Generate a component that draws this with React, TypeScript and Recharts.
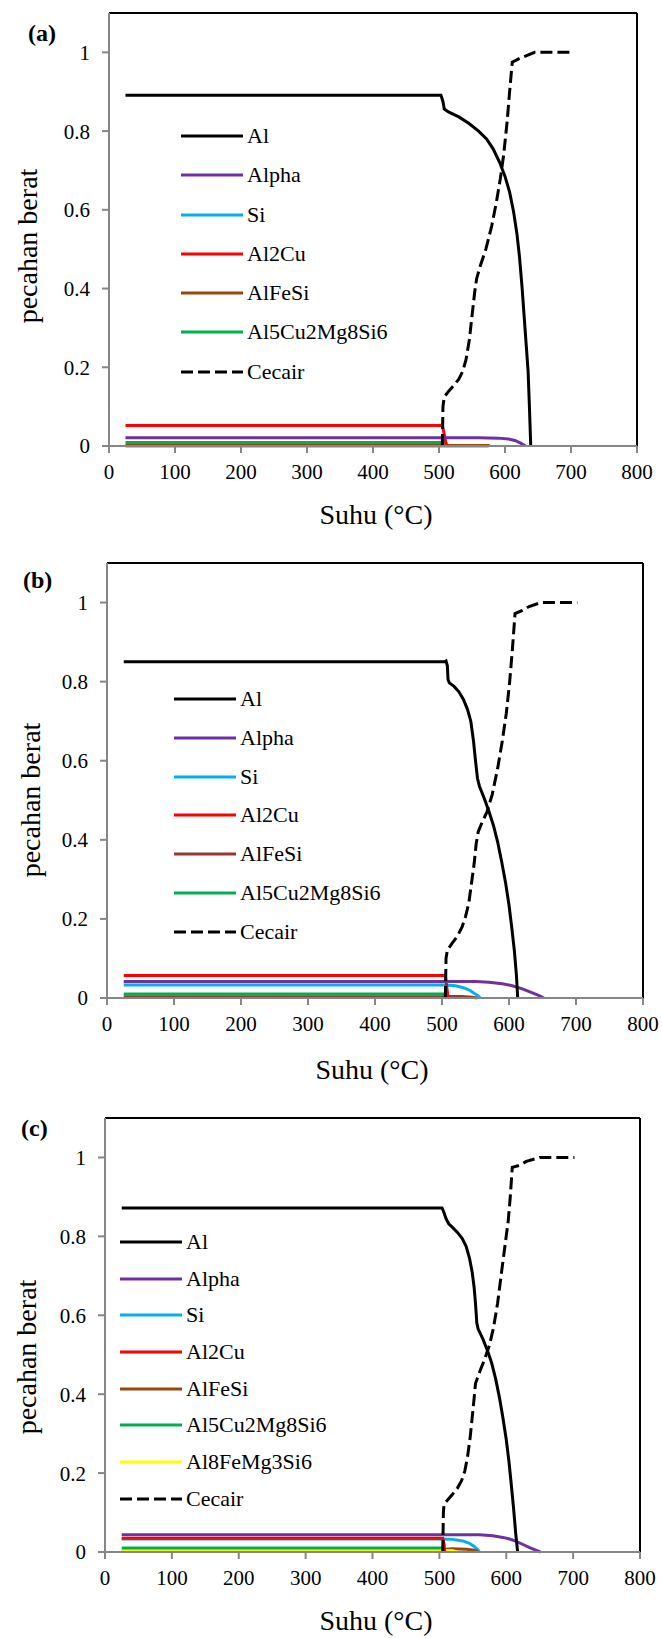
import { LineChart, Line, XAxis, YAxis, ReferenceLine, Legend } from "recharts";

type Pt = [number, number];

const FONT = '"Liberation Serif", "Times New Roman", serif';

const TEMP_TICKS = [0, 100, 200, 300, 400, 500, 600, 700, 800];
const FRACTION_TICKS = [0, 0.2, 0.4, 0.6, 0.8, 1];

// ---- panel (a) ----
const alA: Pt[] = [
  [25, 0.891], [503, 0.891], [506, 0.875], [508, 0.856], [515, 0.848], [530, 0.836],
  [545, 0.82], [560, 0.8], [572, 0.78], [582, 0.755], [592, 0.72], [600, 0.685],
  [607, 0.645], [613, 0.595], [618, 0.54], [622, 0.48], [626, 0.4], [629, 0.33],
  [632, 0.26], [635, 0.19], [637, 0.1], [639, 0],
];
const alphaA: Pt[] = [
  [25, 0.021], [505, 0.021], [560, 0.021], [590, 0.02], [605, 0.018], [615, 0.014],
  [623, 0.008], [628, 0.003], [631, 0],
];
const siA: Pt[] = [[25, 0], [575, 0]];
const al2cuA: Pt[] = [[25, 0.052], [505, 0.052], [508, 0.03], [510, 0.01], [512, 0.002], [514, 0]];
const alfesiA: Pt[] = [[25, 0.0015], [575, 0.0015], [577, 0]];
const al5cuA: Pt[] = [[25, 0.009], [505, 0.009], [508, 0.004], [510, 0]];
const cecairA: Pt[] = [
  [505, 0], [506, 0.1], [508, 0.125], [515, 0.14], [523, 0.155], [530, 0.17], [536, 0.19],
  [541, 0.22], [546, 0.27], [550, 0.33], [554, 0.39], [557, 0.425], [563, 0.46],
  [571, 0.5], [580, 0.56], [587, 0.62], [593, 0.68], [598, 0.74], [603, 0.82],
  [607, 0.9], [611, 0.975], [620, 0.983], [630, 0.99], [645, 1], [702, 1],
];

// ---- panel (b) ----
const alB: Pt[] = [
  [25, 0.85], [504, 0.85], [506, 0.852], [508, 0.84], [509, 0.805], [511, 0.797],
  [518, 0.788], [525, 0.775], [532, 0.755], [538, 0.73], [543, 0.7], [547, 0.65],
  [550, 0.6], [553, 0.555], [556, 0.535], [563, 0.505], [570, 0.472], [577, 0.435],
  [583, 0.395], [589, 0.345], [595, 0.29], [600, 0.235], [604, 0.18], [608, 0.12],
  [611, 0.06], [613, 0],
];
const alphaB: Pt[] = [
  [25, 0.042], [505, 0.042], [550, 0.042], [570, 0.04], [590, 0.036], [605, 0.031],
  [620, 0.023], [635, 0.013], [645, 0.006], [652, 0],
];
const siB: Pt[] = [
  [25, 0.033], [505, 0.033], [520, 0.031], [532, 0.026], [542, 0.019], [549, 0.011],
  [554, 0.005], [557, 0],
];
const al2cuB: Pt[] = [[25, 0.057], [505, 0.057], [507, 0.03], [509, 0]];
const alfesiB: Pt[] = [[25, 0.003], [505, 0.003], [510, 0.004], [530, 0.004], [545, 0.002], [552, 0]];
const al5cuB: Pt[] = [[25, 0.01], [505, 0.01], [507, 0.005], [509, 0]];
const cecairB: Pt[] = [
  [505, 0], [506, 0.1], [508, 0.121], [515, 0.138], [523, 0.156], [530, 0.18], [535, 0.205],
  [540, 0.24], [544, 0.29], [548, 0.34], [551, 0.39], [554, 0.42], [560, 0.445],
  [567, 0.47], [575, 0.515], [583, 0.58], [590, 0.65], [596, 0.72], [601, 0.8],
  [605, 0.88], [609, 0.972], [620, 0.98], [630, 0.99], [648, 1], [702, 1],
];

// ---- panel (c) ----
const alC: Pt[] = [
  [25, 0.872], [504, 0.872], [507, 0.86], [510, 0.845], [514, 0.832], [520, 0.822],
  [527, 0.81], [534, 0.795], [540, 0.775], [545, 0.745], [549, 0.71], [552, 0.67],
  [554, 0.63], [556, 0.58], [558, 0.565], [565, 0.54], [572, 0.51], [578, 0.48],
  [584, 0.44], [590, 0.39], [595, 0.34], [600, 0.285], [604, 0.23], [607, 0.18],
  [611, 0.11], [614, 0.05], [617, 0],
];
const alphaC: Pt[] = [
  [25, 0.044], [505, 0.044], [560, 0.044], [580, 0.041], [595, 0.037], [605, 0.033],
  [615, 0.027], [625, 0.019], [635, 0.011], [645, 0.004], [651, 0],
];
const siC: Pt[] = [
  [25, 0.033], [505, 0.033], [520, 0.032], [535, 0.028], [545, 0.022], [552, 0.014],
  [557, 0.006], [560, 0],
];
const al2cuC: Pt[] = [[25, 0.035], [505, 0.035], [507, 0.02], [508, 0]];
const alfesiC: Pt[] = [
  [25, 0.003], [505, 0.003], [510, 0.007], [520, 0.008], [540, 0.007], [550, 0.005],
  [555, 0.003], [558, 0],
];
const al5cuC: Pt[] = [[25, 0.01], [505, 0.01], [506, 0.005], [507, 0]];
const al8feC: Pt[] = [[25, 0.004], [505, 0.004], [520, 0.003], [527, 0]];
const cecairC: Pt[] = [
  [505, 0], [506, 0.1], [507, 0.122], [512, 0.131], [520, 0.147], [527, 0.162], [533, 0.18],
  [538, 0.205], [542, 0.24], [546, 0.29], [549, 0.34], [552, 0.39], [554, 0.427],
  [561, 0.46], [568, 0.49], [575, 0.525], [581, 0.569], [587, 0.63], [593, 0.71],
  [598, 0.775], [603, 0.84], [606, 0.9], [609, 0.975], [620, 0.98], [630, 0.99],
  [650, 1], [702, 1],
];

type Series = { name: string; pts: Pt[]; color: string; dash?: string };

const DASH = "12 5";

// legend order
const seriesA: Series[] = [
  { name: "Al", pts: alA, color: "#000000" },
  { name: "Alpha", pts: alphaA, color: "#7030A0" },
  { name: "Si", pts: siA, color: "#00B0F0" },
  { name: "Al2Cu", pts: al2cuA, color: "#FF0000" },
  { name: "AlFeSi", pts: alfesiA, color: "#984807" },
  { name: "Al5Cu2Mg8Si6", pts: al5cuA, color: "#00B050" },
  { name: "Cecair", pts: cecairA, color: "#000000", dash: DASH },
];
const seriesB: Series[] = [
  { name: "Al", pts: alB, color: "#000000" },
  { name: "Alpha", pts: alphaB, color: "#7030A0" },
  { name: "Si", pts: siB, color: "#00B0F0" },
  { name: "Al2Cu", pts: al2cuB, color: "#FF0000" },
  { name: "AlFeSi", pts: alfesiB, color: "#953735" },
  { name: "Al5Cu2Mg8Si6", pts: al5cuB, color: "#00B050" },
  { name: "Cecair", pts: cecairB, color: "#000000", dash: DASH },
];
const seriesC: Series[] = [
  { name: "Al", pts: alC, color: "#000000" },
  { name: "Alpha", pts: alphaC, color: "#7030A0" },
  { name: "Si", pts: siC, color: "#00B0F0" },
  { name: "Al2Cu", pts: al2cuC, color: "#FF0000" },
  { name: "AlFeSi", pts: alfesiC, color: "#984807" },
  { name: "Al5Cu2Mg8Si6", pts: al5cuC, color: "#00B050" },
  { name: "Al8FeMg3Si6", pts: al8feC, color: "#FFFF00" },
  { name: "Cecair", pts: cecairC, color: "#000000", dash: DASH },
];

// which series sit on top of which (first drawn = bottom)
const DRAW_ORDER = ["Si", "AlFeSi", "Al8FeMg3Si6", "Al5Cu2Mg8Si6", "Al2Cu", "Alpha", "Al", "Cecair"];

type PanelProps = {
  top: number;
  height: number;
  marginTop: number;
  marginRight: number;
  yWidth: number;
  plotH: number;
  series: Series[];
  tag: string;
  tagTop: number;
  tagLeft: number;
  legendX: number;
  legendY: number;
  legendStep: number;
  xTitleX: number;
  xTitleY: number;
  yTitleX: number;
  yTitleY: number;
};

const AXIS_GREY = "#868686";

function Panel(p: PanelProps) {
  const drawn = DRAW_ORDER.map((n) => p.series.find((s) => s.name === n)).filter(
    (s): s is Series => !!s
  );

  const legendContent = () => (
    <div className="serif" style={{ fontFamily: FONT, fontSize: 22, color: "#000" }}>
      {p.series.map((s) => (
        <div
          key={s.name}
          style={{ display: "flex", alignItems: "center", height: p.legendStep, whiteSpace: "nowrap" }}
        >
          <svg width={62} height={6} style={{ display: "block", marginRight: 4 }}>
            <line x1={0} y1={3} x2={62} y2={3} stroke={s.color} strokeWidth={3} strokeDasharray={s.dash} />
          </svg>
          <span>{s.name}</span>
        </div>
      ))}
    </div>
  );

  return (
    <div style={{ position: "absolute", left: 0, top: p.top, width: 662, height: p.height }}>
      <LineChart
        width={662}
        height={p.height}
        margin={{ top: p.marginTop, right: p.marginRight, bottom: 0, left: 0 }}
        style={{ fontFamily: FONT }}
      >
        <XAxis
          dataKey="x"
          type="number"
          domain={[0, 800]}
          ticks={TEMP_TICKS}
          height={p.height - p.marginTop - p.plotH}
          stroke={AXIS_GREY}
          strokeWidth={2}
          tickSize={7}
          tickMargin={11}
          tick={{ fontSize: 21, fill: "#000", fontFamily: FONT }}
        />
        <YAxis
          dataKey="y"
          type="number"
          domain={[0, 1.1]}
          ticks={FRACTION_TICKS}
          width={p.yWidth}
          stroke={AXIS_GREY}
          strokeWidth={2}
          tickSize={7}
          tickMargin={12}
          tick={{ fontSize: 21, fill: "#000", fontFamily: FONT }}
        />
        <ReferenceLine y={1.1} stroke="#000" strokeWidth={2} />
        <ReferenceLine x={800} stroke="#000" strokeWidth={2} />
        {drawn.map((s) => (
          <Line
            key={s.name}
            name={s.name}
            data={s.pts.map(([x, y]) => ({ x, y }))}
            dataKey="y"
            type="linear"
            stroke={s.color}
            strokeWidth={3}
            strokeDasharray={s.dash}
            dot={false}
            activeDot={false}
            isAnimationActive={false}
          />
        ))}
        <Legend
          layout="vertical"
          align="center"
          verticalAlign="middle"
          wrapperStyle={{ left: p.legendX, top: p.legendY - p.legendStep / 2, width: 260 }}
          content={legendContent}
        />
      </LineChart>

      <div
        className="serif"
        style={{
          position: "absolute",
          left: p.tagLeft,
          top: p.tagTop,
          fontWeight: "bold",
          fontSize: 24,
          lineHeight: "28px",
        }}
      >
        {p.tag}
      </div>
      <div
        className="serif"
        style={{
          position: "absolute",
          left: p.xTitleX,
          top: p.xTitleY,
          transform: "translate(-50%, -50%)",
          fontSize: 28,
          whiteSpace: "nowrap",
        }}
      >
        Suhu (°C)
      </div>
      <div
        className="serif"
        style={{
          position: "absolute",
          left: p.yTitleX,
          top: p.yTitleY,
          transform: "translate(-50%, -50%) rotate(-90deg)",
          fontSize: 28,
          whiteSpace: "nowrap",
        }}
      >
        pecahan berat
      </div>
    </div>
  );
}

export default function App() {
  return (
    <div style={{ position: "absolute", left: 0, top: 0, width: 662, height: 1638, background: "#fff" }}>
      <style>{`.serif, .serif *, .recharts-wrapper text, .recharts-legend-wrapper * { font-family: "Liberation Serif", "Times New Roman", serif !important; }`}</style>
      <Panel
        top={0}
        height={550}
        marginTop={13}
        marginRight={25}
        yWidth={109}
        plotH={433}
        series={seriesA}
        tag="(a)"
        tagLeft={28}
        tagTop={19}
        legendX={181}
        legendY={136}
        legendStep={39.3}
        xTitleX={376}
        xTitleY={515}
        yTitleX={28}
        yTitleY={246}
      />
      <Panel
        top={550}
        height={550}
        marginTop={13}
        marginRight={19}
        yWidth={107}
        plotH={435}
        series={seriesB}
        tag="(b)"
        tagLeft={23}
        tagTop={16}
        legendX={174}
        legendY={149}
        legendStep={38.8}
        xTitleX={372}
        xTitleY={520}
        yTitleX={31}
        yTitleY={250}
      />
      <Panel
        top={1100}
        height={538}
        marginTop={18}
        marginRight={22}
        yWidth={105}
        plotH={434}
        series={seriesC}
        tag="(c)"
        tagLeft={21}
        tagTop={14}
        legendX={120}
        legendY={142}
        legendStep={36.7}
        xTitleX={376}
        xTitleY={521}
        yTitleX={27}
        yTitleY={257}
      />
    </div>
  );
}
